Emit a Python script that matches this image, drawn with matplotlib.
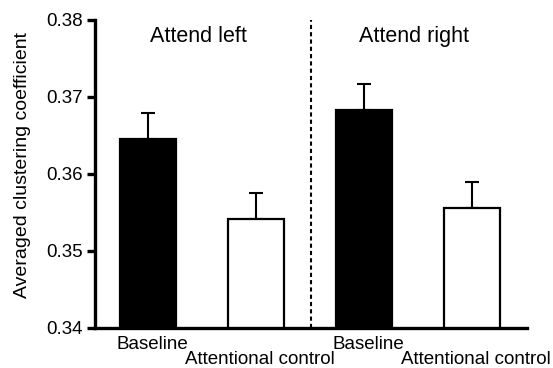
import matplotlib
matplotlib.use("Agg")
import matplotlib.pyplot as plt

plt.rcParams['font.family'] = ['Liberation Sans', 'DejaVu Sans']

categories = ["Baseline", "Attentional control", "Baseline", "Attentional control"]
values = [0.3645, 0.3541, 0.3683, 0.3556]
errors = [0.0034, 0.0034, 0.0034, 0.0034]
fills = ["black", "white", "black", "white"]
group_labels = ["Attend left", "Attend right"]
y_ticks = [0.34, 0.35, 0.36, 0.37, 0.38]
y_label = "Averaged clustering coefficient"

fig = plt.figure(figsize=(5.53, 3.68), dpi=100)
ax = fig.add_axes([0.172, 0.109, 0.781, 0.837])

x = list(range(len(values)))
ax.bar(x, values, width=0.52, color=fills, edgecolor="black", linewidth=1.6, zorder=2)
ax.errorbar(x, values, yerr=[[0]*len(errors), errors], fmt="none", ecolor="black",
            elinewidth=1.5, capsize=5, capthick=1.5, zorder=1)

ax.set_ylim(0.34, 0.38)
ax.set_xlim(-0.49, 3.51)
ax.set_yticks(y_ticks)
ax.set_yticklabels([f"{v:.2f}" for v in y_ticks], fontsize=13.5)
ax.set_xticks([])

for i, lab in enumerate(categories):
    dy = -21 if i % 2 == 0 else -36
    ax.annotate(lab, xy=(i, 0), xycoords=("data", "axes fraction"),
                xytext=(4, dy), textcoords="offset pixels",
                ha="center", va="baseline", fontsize=13.5, annotation_clip=False)

ax.axvline(1.51, color="black", linestyle=(0, (2, 1.5)), linewidth=1.5)
ax.text(0.47, 0.3778, group_labels[0], ha="center", va="center", fontsize=15.5)
ax.text(2.46, 0.3779, group_labels[1], ha="center", va="center", fontsize=15.5)

for s in ["top", "right"]:
    ax.spines[s].set_visible(False)
for s in ["left", "bottom"]:
    ax.spines[s].set_linewidth(2.4)
ax.tick_params(axis="y", direction="out", length=6, width=2.4, pad=3)
ax.set_ylabel(y_label, fontsize=14)
ax.yaxis.set_label_coords(-0.148, 0.528)

fig.savefig("out.png", dpi=100)
